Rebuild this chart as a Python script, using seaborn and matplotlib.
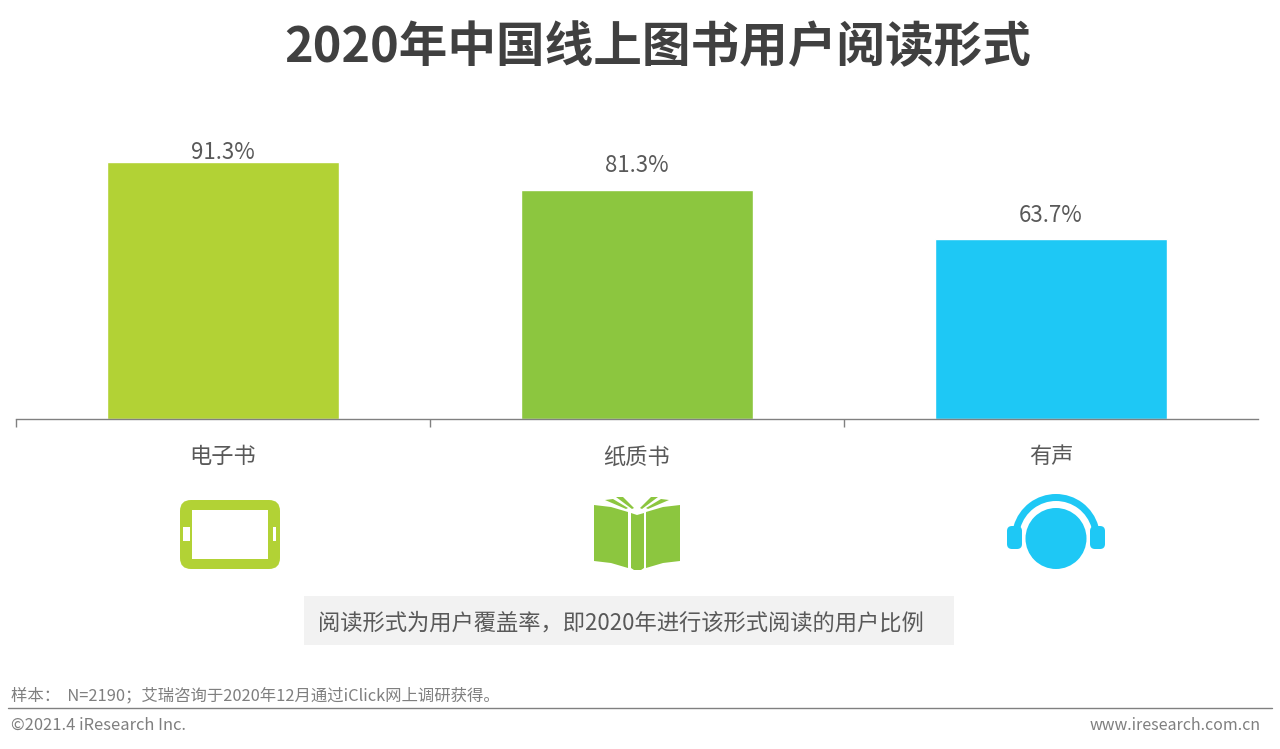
import matplotlib
matplotlib.use("Agg")
import matplotlib.pyplot as plt
from matplotlib.patches import Circle, FancyBboxPatch, Polygon, Rectangle, Wedge
import pandas as pd
import seaborn as sns

categories = ["电子书", "纸质书", "有声"]
values = [91.3, 81.3, 63.7]
bar_colors = ["#B2D235", "#8CC63F", "#1EC8F5"]
label_offsets = [-2, 9, 9]

title = "2020年中国线上图书用户阅读形式"
note = "阅读形式为用户覆盖率，即2020年进行该形式阅读的用户比例"
source = "样本：  N=2190；艾瑞咨询于2020年12月通过iClick网上调研获得。"
copyright_text = "©2021.4 iResearch Inc."
website = "www.iresearch.com.cn"

sns.set_theme(style="white")
plt.rcParams["font.family"] = ["Noto Sans CJK SC", "DejaVu Sans"]

W, H = 1280, 749
fig = plt.figure(figsize=(W / 100, H / 100), dpi=100, facecolor="white")
ax = fig.add_axes([16 / W, (H - 419) / H, 1242 / W, 282 / H])
df = pd.DataFrame({"category": categories, "value": values})
sns.barplot(data=df, x="category", y="value", hue="category", order=categories,
            hue_order=categories, palette=bar_colors, dodge=False, legend=False,
            width=0.5585, saturation=1, ax=ax)
ax.set_xlim(-0.5, 2.5)
ax.set_ylim(0, 100)
ax.set_xlabel("")
ax.set_ylabel("")
ax.set_yticks([])
ax.patch.set_alpha(0)
for side in ["top", "left", "right"]:
    ax.spines[side].set_visible(False)
ax.spines["bottom"].set_color("#808080")
ax.spines["bottom"].set_linewidth(1)
ax.set_xticks([0, 1, 2])
ax.set_xticklabels(categories)
ax.tick_params(axis="x", which="major", length=0, pad=19, labelsize=16, labelcolor="#595959")
ax.set_xticks([-0.5, 0.5, 1.5], minor=True)
ax.tick_params(axis="x", which="minor", length=5.5, width=1, color="#808080", bottom=True)

for i, (v, off) in enumerate(zip(values, label_offsets)):
    ax.annotate(f"{v}%", (i, v), xytext=(0, off), textcoords="offset points",
                ha="center", va="bottom", fontsize=16, color="#595959", annotation_clip=False)

ov = fig.add_axes([0, 0, 1, 1], zorder=5)
ov.set_xlim(0, W)
ov.set_ylim(H, 0)
ov.axis("off")
ov.patch.set_alpha(0)

ov.text(658, 48, title, ha="center", va="center", fontsize=35, fontweight="bold", color="#404040")

# tablet icon
c = bar_colors[0]
ov.add_patch(FancyBboxPatch((180, 500), 100, 69, boxstyle="round,pad=0,rounding_size=11", fc=c, ec="none"))
ov.add_patch(Rectangle((192, 510), 76, 49, fc="white", ec="none"))
ov.add_patch(Rectangle((183, 527), 7, 14, fc="white", ec="none"))
ov.add_patch(Rectangle((273, 527), 3, 14, fc="white", ec="none"))

# book icon
c = bar_colors[1]
ov.add_patch(Polygon([(594, 505), (611, 507), (628, 512), (628, 568), (611, 563), (594, 561)], fc=c, ec="none"))
ov.add_patch(Polygon([(646, 512), (663, 507), (680, 505), (680, 561), (663, 563), (646, 568)], fc=c, ec="none"))
ov.add_patch(Polygon([(631, 513), (637, 515), (644, 513), (644, 568), (641, 570), (634, 570), (631, 568)], fc=c, ec="none"))
for pts in ([(605, 500), (613, 499), (628, 508), (626, 509)],
            [(616, 497), (623, 497), (634, 508), (632, 509)],
            [(669, 500), (661, 499), (646, 508), (648, 509)],
            [(658, 497), (651, 497), (640, 508), (642, 509)]):
    ov.add_patch(Polygon(pts, fc=c, ec="none"))

# headphones icon
c = bar_colors[2]
ov.add_patch(Circle((1056, 538.5), 30.5, fc=c, ec="none"))
ov.add_patch(Wedge((1056, 538), 44, 196, 344, width=7, fc=c, ec="none"))
ov.add_patch(FancyBboxPatch((1007, 526), 15, 23, boxstyle="round,pad=0,rounding_size=5", fc=c, ec="none"))
ov.add_patch(FancyBboxPatch((1090, 526), 15, 23, boxstyle="round,pad=0,rounding_size=5", fc=c, ec="none"))

# note box
ov.add_patch(Rectangle((304, 596), 650, 49, fc="#F2F2F2", ec="none"))
ov.text(318, 623, note, ha="left", va="center", fontsize=16.05, color="#595959")

# footer
ov.plot([8, 1272], [708, 708], color="#808080", lw=1)
ov.text(11, 696, source, ha="left", va="center", fontsize=11.8, color="#7F7F7F")
ov.text(11, 725, copyright_text, ha="left", va="center", fontsize=11.9, color="#7F7F7F")
ov.text(1261, 725, website, ha="right", va="center", fontsize=11.5, color="#7F7F7F")

fig.savefig("out.png", dpi=100, facecolor="white")
